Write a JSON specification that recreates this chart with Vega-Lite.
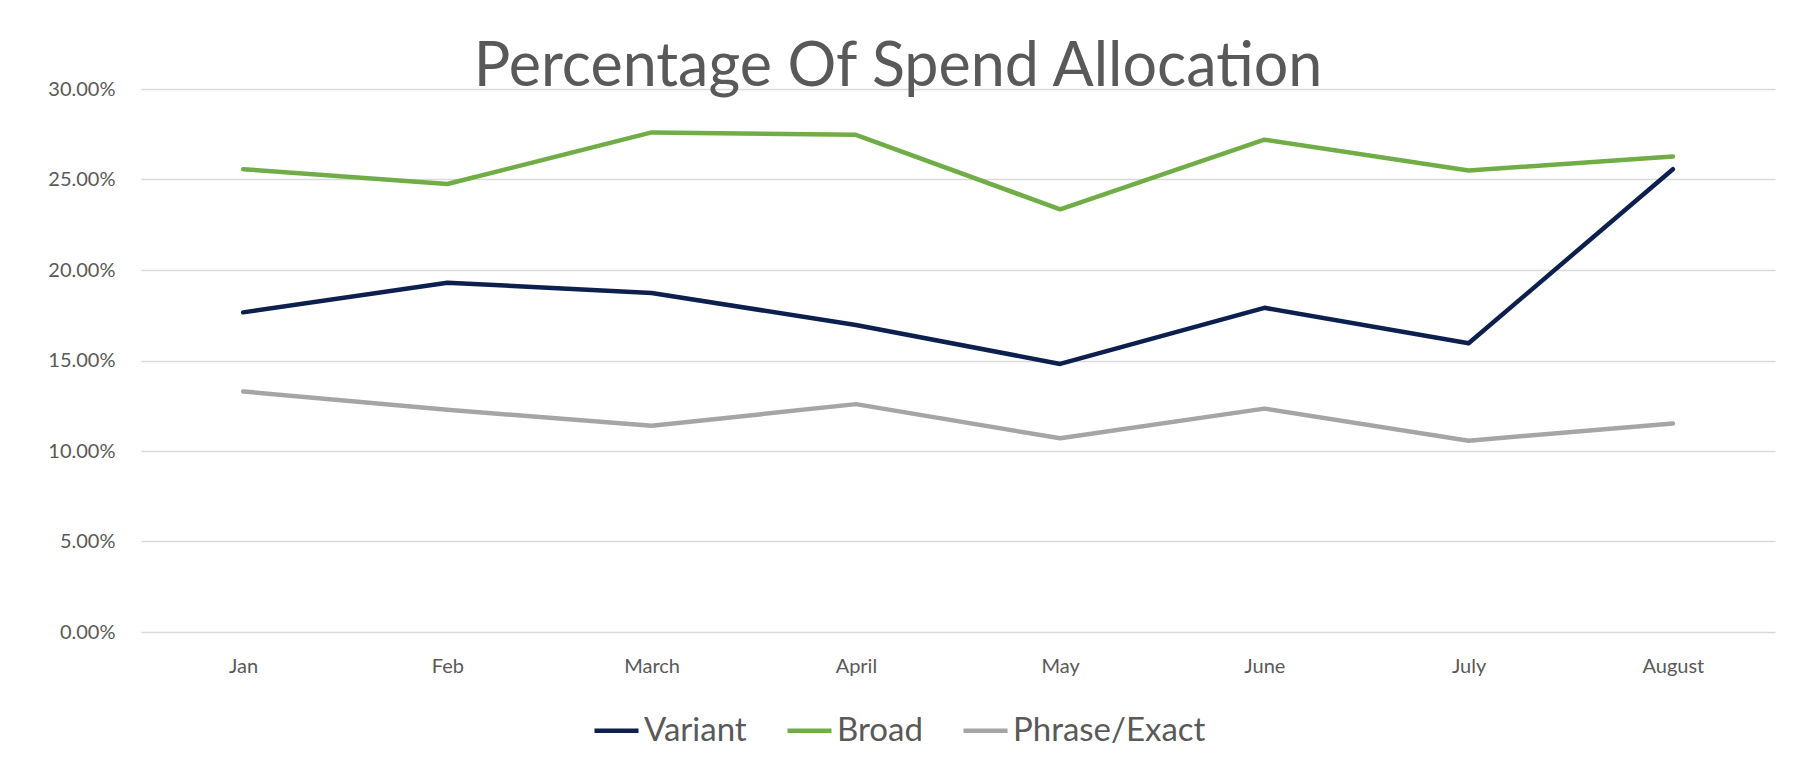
{
  "$schema": "https://vega.github.io/schema/vega-lite/v6.json",
  "width": 1634,
  "height": 543,
  "autosize": {"type": "none"},
  "padding": {"left": 141, "top": 89, "right": 21, "bottom": 138},
  "background": "white",
  "title": {
    "text": "Percentage Of Spend Allocation",
    "font": "Lato",
    "fontSize": 61,
    "fontWeight": "normal",
    "color": "#595959",
    "anchor": "middle",
    "frame": "group",
    "baseline": "alphabetic",
    "offset": 6,
    "dx": -60,
    "dy": 74
  },
  "data": {
    "values": [
      {"month": "Jan", "series": "Variant", "value": 0.1766},
      {"month": "Feb", "series": "Variant", "value": 0.1930},
      {"month": "March", "series": "Variant", "value": 0.1873},
      {"month": "April", "series": "Variant", "value": 0.1696},
      {"month": "May", "series": "Variant", "value": 0.1481},
      {"month": "June", "series": "Variant", "value": 0.1791},
      {"month": "July", "series": "Variant", "value": 0.1595},
      {"month": "August", "series": "Variant", "value": 0.2557},
      {"month": "Jan", "series": "Broad", "value": 0.2557},
      {"month": "Feb", "series": "Broad", "value": 0.2475},
      {"month": "March", "series": "Broad", "value": 0.2760},
      {"month": "April", "series": "Broad", "value": 0.2747},
      {"month": "May", "series": "Broad", "value": 0.2335},
      {"month": "June", "series": "Broad", "value": 0.2720},
      {"month": "July", "series": "Broad", "value": 0.2550},
      {"month": "August", "series": "Broad", "value": 0.2627},
      {"month": "Jan", "series": "Phrase/Exact", "value": 0.1329},
      {"month": "Feb", "series": "Phrase/Exact", "value": 0.1228},
      {"month": "March", "series": "Phrase/Exact", "value": 0.1139},
      {"month": "April", "series": "Phrase/Exact", "value": 0.1259},
      {"month": "May", "series": "Phrase/Exact", "value": 0.1070},
      {"month": "June", "series": "Phrase/Exact", "value": 0.1234},
      {"month": "July", "series": "Phrase/Exact", "value": 0.1057},
      {"month": "August", "series": "Phrase/Exact", "value": 0.1152}
    ]
  },
  "mark": {"type": "line", "strokeWidth": 4.5, "strokeCap": "round", "strokeJoin": "round"},
  "encoding": {
    "x": {
      "field": "month",
      "type": "ordinal",
      "sort": ["Jan", "Feb", "March", "April", "May", "June", "July", "August"],
      "scale": {"type": "point", "padding": 0.5},
      "axis": {
        "title": null,
        "domain": false,
        "ticks": false,
        "grid": false,
        "labelAngle": 0,
        "labelFont": "Lato",
        "labelFontSize": 20,
        "labelColor": "#595959",
        "labelPadding": 24
      }
    },
    "y": {
      "field": "value",
      "type": "quantitative",
      "scale": {"domain": [0, 0.3], "nice": false},
      "axis": {
        "title": null,
        "format": ".2%",
        "values": [0, 0.05, 0.1, 0.15, 0.2, 0.25, 0.3],
        "domain": false,
        "ticks": false,
        "grid": true,
        "gridColor": "#d9d9d9",
        "gridWidth": 1.5,
        "labelFont": "Lato",
        "labelFontSize": 20,
        "labelColor": "#595959",
        "labelPadding": 26
      }
    },
    "color": {
      "field": "series",
      "type": "nominal",
      "sort": ["Variant", "Broad", "Phrase/Exact"],
      "scale": {"domain": ["Variant", "Broad", "Phrase/Exact"], "range": ["#0c1f4e", "#70ad47", "#a5a5a5"]},
      "legend": {
        "title": null,
        "orient": "none",
        "direction": "horizontal",
        "legendX": 451,
        "legendY": 617,
        "symbolType": "stroke",
        "symbolSize": 1936,
        "symbolStrokeWidth": 4.5,
        "labelFont": "Lato",
        "labelFontSize": 33,
        "labelLimit": 400,
        "labelColor": "#595959",
        "labelOffset": 3,
        "columnPadding": 31,
        "symbolOffset": 0
      }
    }
  },
  "config": {"view": {"stroke": null}}
}
